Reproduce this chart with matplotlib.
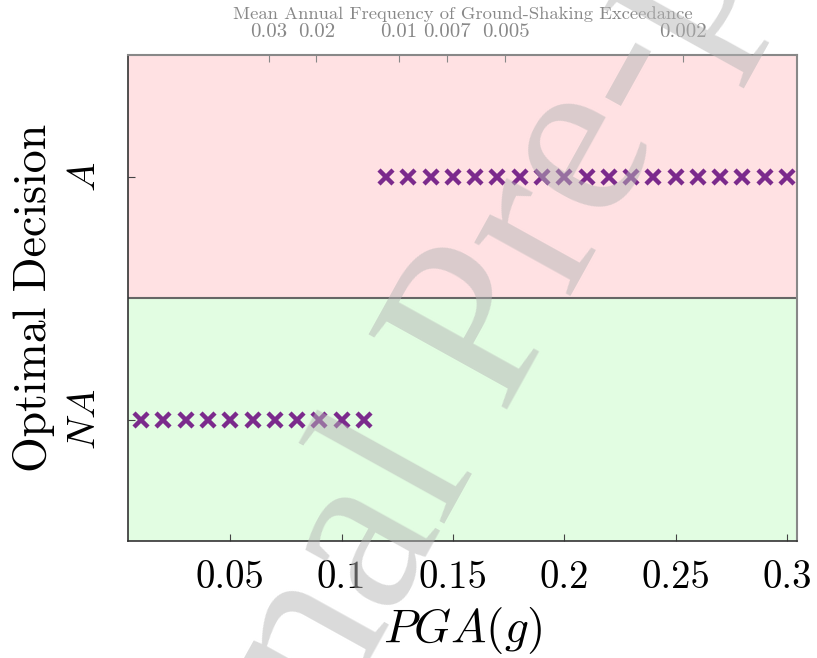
# coding:utf-8

import numpy as np
import matplotlib
matplotlib.use('Agg')
import matplotlib.pyplot as plt

plt.rcParams['font.family'] = 'serif'
plt.rcParams['font.serif'] = ['cmr10']
plt.rcParams['mathtext.fontset'] = 'cm'
plt.rcParams['axes.formatter.use_mathtext'] = True

# optimal decision per PGA level (0 = NA, 1 = A)
pga = [0.01, 0.02, 0.03, 0.04, 0.05, 0.06, 0.07, 0.08, 0.09, 0.10,
       0.11, 0.12, 0.13, 0.14, 0.15, 0.16, 0.17, 0.18, 0.19, 0.20,
       0.21, 0.22, 0.23, 0.24, 0.25, 0.26, 0.27, 0.28, 0.29, 0.30]
decision = [0] * 11 + [1] * 19
decision_labels = ['$NA$', '$A$']

# top axis: mean annual frequency of exceedance at given PGA
freq_pga = [0.0673, 0.0887, 0.1257, 0.1472, 0.1736, 0.2532]
freq_labels = ['0.03', '0.02', '0.01', '0.007', '0.005', '0.002']

x_ticks = [0.05, 0.1, 0.15, 0.2, 0.25, 0.3]
x_tick_labels = ['0.05', '0.1', '0.15', '0.2', '0.25', '0.3']

fig = plt.figure(figsize=(8.17, 6.58), dpi=100)
ax = fig.add_axes([0.1567, 0.1778, 0.8188, 0.7386])

ax.axhspan(0.5, 1.5, color='#ffe1e3', zorder=0)
ax.axhspan(-0.5, 0.5, color='#e2fde2', zorder=0)
ax.axhline(0.5, color='#666666', lw=1.5, zorder=1)

ax.plot(pga, decision, 'x', color='#7b2a8c', markersize=10, mew=3.2,
        linestyle='none', zorder=3)

ax.set_xlim(0.0041, 0.3045)
ax.set_ylim(-0.5, 1.5)
ax.set_xticks(x_ticks)
ax.set_xticklabels(x_tick_labels, fontsize=28)
ax.set_yticks([0, 1])
ax.set_yticklabels(decision_labels, fontsize=28, rotation=90, va='center')
ax.tick_params(direction='in', length=5, color='#444444')
ax.tick_params(axis='x', pad=14)
ax.tick_params(axis='y', pad=18)
ax.set_xlabel('$PGA(g)$', fontsize=34, labelpad=6)
ax.set_ylabel('Optimal Decision', fontsize=33, labelpad=9)

for side in ['left', 'bottom']:
    ax.spines[side].set_color('#333333')
    ax.spines[side].set_linewidth(1.2)
for side in ['top', 'right']:
    ax.spines[side].set_color('#888888')
    ax.spines[side].set_linewidth(1.5)

ax2 = ax.twiny()
ax2.set_xlim(ax.get_xlim())
ax2.set_xticks(freq_pga)
ax2.set_xticklabels(freq_labels, fontsize=15, color='#888888')
ax2.tick_params(direction='in', length=5, color='#888888', pad=10)
ax2.set_xlabel('Mean Annual Frequency of Ground-Shaking Exceedance',
               fontsize=13.4, color='#888888', labelpad=3)
for s in ax2.spines.values():
    s.set_visible(False)

# watermark
fig.text(0.600, 0.512, 'Journal Pre-proof', fontsize=173, family='Liberation Serif',
         color='#b5b5b5', alpha=0.5, rotation=61,
         rotation_mode='anchor', ha='center', va='center', zorder=10)

plt.savefig('out.png', dpi=100)
